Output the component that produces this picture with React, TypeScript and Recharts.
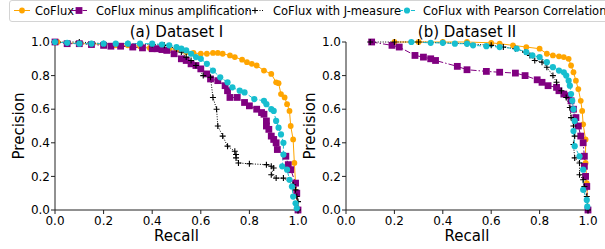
import React from "react";
import { LineChart, Line, XAxis, YAxis } from "recharts";

const TICKS = [0, 0.2, 0.4, 0.6, 0.8, 1.0];
const SERIES_NAMES = [
  "CoFlux",
  "CoFlux minus amplification",
  "CoFlux with J-measure",
  "CoFlux with Pearson Correlation",
];
const TITLES = ["(a) Dataset I", "(b) Dataset II"];

// Dataset I
const coFluxA_R = [0.01, 0.05, 0.1, 0.15, 0.2, 0.25, 0.3, 0.35, 0.39, 0.43, 0.47, 0.5, 0.54, 0.57, 0.6, 0.625, 0.65, 0.67, 0.69, 0.72, 0.74, 0.77, 0.79, 0.81, 0.83, 0.86, 0.89, 0.91, 0.92, 0.93, 0.945, 0.955, 0.965, 0.97, 0.98, 0.985, 0.99, 0.995, 1.0];
const coFluxA_P = [1.0, 0.995, 0.99, 0.99, 0.985, 0.98, 0.98, 0.975, 0.965, 0.96, 0.96, 0.955, 0.94, 0.935, 0.93, 0.93, 0.935, 0.935, 0.93, 0.92, 0.91, 0.895, 0.88, 0.87, 0.86, 0.83, 0.81, 0.76, 0.755, 0.69, 0.67, 0.63, 0.59, 0.5, 0.42, 0.28, 0.16, 0.1, 0.0];

const minusA_R = [0.0, 0.05, 0.1, 0.15, 0.2, 0.23, 0.27, 0.32, 0.36, 0.4, 0.42, 0.44, 0.46, 0.49, 0.52, 0.54, 0.56, 0.58, 0.6, 0.625, 0.64, 0.67, 0.7, 0.71, 0.72, 0.75, 0.78, 0.8, 0.83, 0.85, 0.86, 0.87, 0.87, 0.88, 0.89, 0.9, 0.91, 0.915, 0.95, 0.96, 0.97, 0.99, 0.995, 1.0];
const minusA_P = [1.0, 0.99, 0.99, 0.985, 0.98, 0.975, 0.975, 0.97, 0.965, 0.96, 0.96, 0.955, 0.95, 0.93, 0.9, 0.89, 0.87, 0.86, 0.84, 0.81, 0.78, 0.77, 0.74, 0.71, 0.67, 0.67, 0.64, 0.62, 0.6, 0.58, 0.57, 0.53, 0.5, 0.48, 0.44, 0.42, 0.4, 0.36, 0.32, 0.27, 0.24, 0.16, 0.1, 0.0];

const jA_R = [0.0, 0.1, 0.2, 0.3, 0.4, 0.45, 0.5, 0.52, 0.54, 0.56, 0.58, 0.61, 0.64, 0.65, 0.665, 0.67, 0.69, 0.71, 0.74, 0.745, 0.745, 0.755, 0.8, 0.87, 0.89, 0.9, 0.89, 0.91, 0.94, 0.98, 0.99, 0.995, 1.0, 1.0];
const jA_P = [1.0, 1.0, 0.99, 0.99, 0.985, 0.98, 0.96, 0.94, 0.91, 0.89, 0.86, 0.8, 0.79, 0.67, 0.6, 0.5, 0.44, 0.38, 0.35, 0.33, 0.31, 0.28, 0.275, 0.27, 0.26, 0.25, 0.21, 0.19, 0.19, 0.15, 0.12, 0.08, 0.05, 0.0];

const pearsonA_R = [0.0, 0.05, 0.1, 0.15, 0.2, 0.25, 0.3, 0.35, 0.4, 0.44, 0.47, 0.5, 0.52, 0.54, 0.56, 0.58, 0.6, 0.625, 0.65, 0.68, 0.71, 0.73, 0.76, 0.78, 0.82, 0.86, 0.87, 0.89, 0.9, 0.91, 0.92, 0.93, 0.94, 0.94, 0.935, 0.955, 0.965, 0.975, 0.98, 0.99, 0.995];
const pearsonA_P = [1.0, 0.995, 0.99, 0.99, 0.99, 0.99, 0.99, 0.99, 0.99, 0.985, 0.98, 0.97, 0.96, 0.95, 0.93, 0.91, 0.9, 0.87, 0.83, 0.79, 0.76, 0.73, 0.71, 0.7, 0.66, 0.65, 0.63, 0.6, 0.59, 0.53, 0.49, 0.45, 0.4, 0.33, 0.26, 0.24, 0.18, 0.14, 0.08, 0.04, 0.01];

// Dataset II
const coFluxB_R = [0.2, 0.3, 0.4, 0.5, 0.6, 0.635, 0.69, 0.745, 0.8, 0.83, 0.855, 0.88, 0.9, 0.92, 0.93, 0.94, 0.95, 0.96, 0.97, 0.976, 0.98, 0.99, 0.99, 0.995, 1.0];
const coFluxB_P = [1.0, 1.0, 1.0, 1.0, 0.995, 0.99, 0.98, 0.97, 0.96, 0.93, 0.92, 0.915, 0.91, 0.9, 0.86, 0.82, 0.77, 0.72, 0.65, 0.59, 0.51, 0.42, 0.28, 0.16, 0.0];

const minusB_R = [0.106, 0.19, 0.22, 0.285, 0.32, 0.35, 0.37, 0.46, 0.5, 0.58, 0.635, 0.7, 0.74, 0.79, 0.81, 0.835, 0.87, 0.88, 0.9, 0.92, 0.93, 0.94, 0.95, 0.96, 0.97, 0.98, 0.985, 0.985, 0.99, 0.995, 1.0];
const minusB_P = [1.0, 0.98, 0.97, 0.92, 0.91, 0.9, 0.89, 0.855, 0.835, 0.825, 0.82, 0.815, 0.8, 0.775, 0.76, 0.74, 0.73, 0.71, 0.69, 0.68, 0.65, 0.6, 0.55, 0.5, 0.44, 0.4, 0.32, 0.26, 0.2, 0.14, 0.0];

const jB_R = [0.1, 0.2, 0.3, 0.4, 0.5, 0.6, 0.65, 0.7, 0.74, 0.76, 0.78, 0.81, 0.83, 0.855, 0.87, 0.89, 0.91, 0.925, 0.93, 0.94, 0.945, 0.94, 0.945, 0.965, 0.965, 0.98, 0.985, 0.995, 1.0];
const jB_P = [1.0, 1.0, 1.0, 0.995, 0.99, 0.98, 0.97, 0.96, 0.94, 0.92, 0.89, 0.88, 0.85, 0.8, 0.76, 0.71, 0.67, 0.61, 0.55, 0.5, 0.44, 0.39, 0.31, 0.28, 0.21, 0.18, 0.14, 0.08, 0.0];

const pearsonB_R = [0.27, 0.35, 0.4, 0.45, 0.5, 0.525, 0.58, 0.635, 0.705, 0.745, 0.77, 0.8, 0.83, 0.855, 0.88, 0.9, 0.91, 0.92, 0.925, 0.93, 0.935, 0.94, 0.945, 0.94, 0.945, 0.965, 0.98, 0.98, 0.995, 0.997];
const pearsonB_P = [1.0, 0.995, 0.995, 0.99, 0.99, 0.98, 0.975, 0.97, 0.96, 0.94, 0.92, 0.91, 0.88, 0.85, 0.83, 0.82, 0.8, 0.77, 0.74, 0.69, 0.65, 0.6, 0.53, 0.47, 0.38, 0.32, 0.24, 0.12, 0.06, 0.02];

const COLORS = ["#ffa500", "#800080", "#000000", "#17becf"];
const DASHES = [undefined, "6 2 1.5 2", "1 1.5", "4 2"];
const FONT = "'DejaVu Sans', sans-serif";

const pts = (r: number[], p: number[]) => r.map((x, i) => ({ r: x, p: p[i] }));

function Marker({ kind, cx, cy, color }: { kind: number; cx: number; cy: number; color: string }) {
  if (kind === 1) return <rect x={cx - 3.4} y={cy - 3.4} width={6.8} height={6.8} fill={color} />;
  if (kind === 2)
    return (
      <path d={`M${cx - 3},${cy}H${cx + 3}M${cx},${cy - 3}V${cy + 3}`} stroke={color} strokeWidth={1.1} />
    );
  return <circle cx={cx} cy={cy} r={kind === 0 ? 2.9 : 3.1} fill={color} />;
}

const makeDot = (kind: number) => (props: any) => {
  const { cx, cy, index } = props;
  if (cx == null || cy == null) return <g key={index} />;
  return <Marker key={index} kind={kind} cx={cx} cy={cy} color={COLORS[kind]} />;
};

function Panel({ series, left, width, margin }: {
  series: { r: number; p: number }[][];
  left: number;
  width: number;
  margin: { top: number; right: number; bottom: number; left: number };
}) {
  const tick = { fill: "#000", fontSize: 12, fontFamily: FONT };
  return (
    <div style={{ position: "absolute", left, top: 0 }}>
      <LineChart width={width} height={249} margin={margin}>
        <XAxis
          dataKey="r" type="number" domain={[0, 1]} ticks={TICKS}
          tickFormatter={(v) => v.toFixed(1)} tick={tick}
          stroke="#222" tickSize={4} tickMargin={2} height={39} interval={0}
        />
        <XAxis xAxisId="top" orientation="top" type="number" domain={[0, 1]} tick={false} tickLine={false} stroke="#222" height={0} />
        <YAxis
          type="number" domain={[0, 1]} ticks={TICKS}
          tickFormatter={(v) => v.toFixed(1)} tick={tick}
          stroke="#222" tickSize={4} tickMargin={1} width={40} interval={0}
        />
        <YAxis yAxisId="right" orientation="right" type="number" domain={[0, 1]} tick={false} tickLine={false} stroke="#222" width={0} />
        {series.map((d, k) => (
          <Line
            key={k} data={d} dataKey="p" stroke={COLORS[k]} strokeWidth={1}
            strokeDasharray={DASHES[k]} dot={makeDot(k)} activeDot={false}
            isAnimationActive={false} type="linear"
          />
        ))}
      </LineChart>
    </div>
  );
}

function LegendBox() {
  const items = [
    { mx: 22, tx: 35 },
    { mx: 79, tx: 96 },
    { mx: 255, tx: 273 },
    { mx: 407, tx: 423 },
  ];
  return (
    <div style={{ position: "absolute", left: 0, top: 0, width: 605, height: 24, overflow: "hidden" }}>
      <div style={{ position: "absolute", left: 9, top: 0, width: 640, height: 20, border: "1px solid #d4d4d4", borderRadius: 3, background: "#fff" }} />
      <svg width={605} height={24} style={{ position: "absolute", left: 0, top: 0 }}>
        {items.map((it, k) => (
          <g key={k}>
            <line x1={it.mx - 8} x2={it.mx + 8} y1={10.5} y2={10.5} stroke={COLORS[k]} strokeWidth={1} strokeDasharray={DASHES[k]} />
            <Marker kind={k} cx={it.mx} cy={10.5} color={COLORS[k]} />
            <text x={it.tx} y={14.5} fontSize={11.5} fontFamily={FONT} fill="#000">{SERIES_NAMES[k]}</text>
          </g>
        ))}
      </svg>
    </div>
  );
}

const label: React.CSSProperties = { position: "absolute", fontFamily: FONT, fontSize: 15, color: "#000", whiteSpace: "nowrap", lineHeight: "15px" };

export default function App() {
  const dataA = [pts(coFluxA_R, coFluxA_P), pts(minusA_R, minusA_P), pts(jA_R, jA_P), pts(pearsonA_R, pearsonA_P)];
  const dataB = [pts(coFluxB_R, coFluxB_P), pts(minusB_R, minusB_P), pts(jB_R, jB_P), pts(pearsonB_R, pearsonB_P)];
  return (
    <div style={{ position: "absolute", left: 0, top: 0, width: 605, height: 249, background: "#fff", overflow: "hidden" }}>
      <Panel series={dataA} left={0} width={320} margin={{ top: 42, right: 22, bottom: 0, left: 15 }} />
      <Panel series={dataB} left={300} width={320} margin={{ top: 42, right: 32, bottom: 0, left: 6 }} />
      <LegendBox />
      <div style={{ ...label, left: 176.5, top: 25, transform: "translateX(-50%)" }}>{TITLES[0]}</div>
      <div style={{ ...label, left: 467, top: 25, transform: "translateX(-50%)" }}>{TITLES[1]}</div>
      <div style={{ ...label, left: 176.5, top: 229, transform: "translateX(-50%)" }}>Recall</div>
      <div style={{ ...label, left: 467, top: 229, transform: "translateX(-50%)" }}>Recall</div>
      <div style={{ ...label, left: 19, top: 126, transform: "translate(-50%, -50%) rotate(-90deg)" }}>Precision</div>
      <div style={{ ...label, left: 310, top: 126, transform: "translate(-50%, -50%) rotate(-90deg)" }}>Precision</div>
    </div>
  );
}
